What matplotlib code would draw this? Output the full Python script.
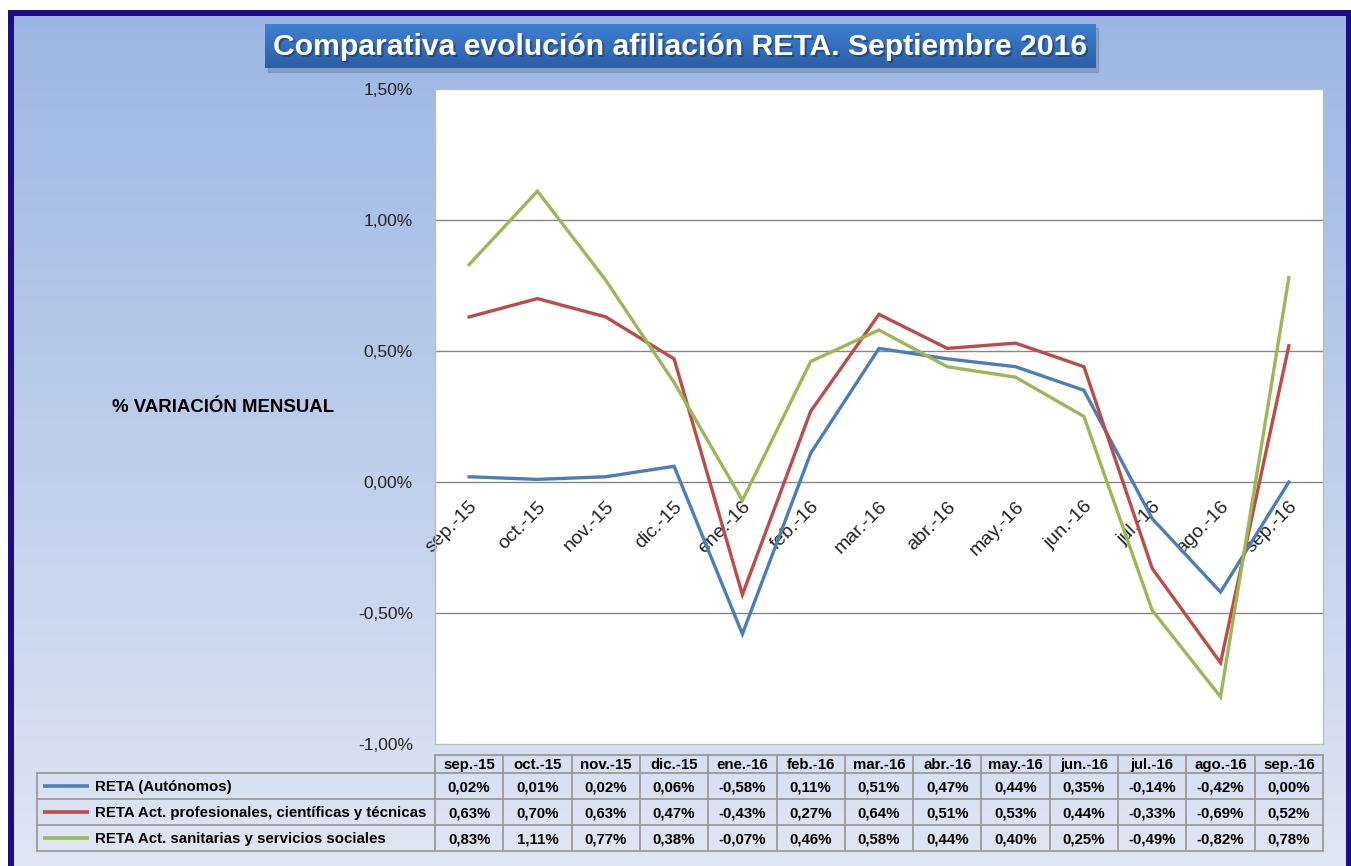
import numpy as np
import matplotlib
matplotlib.use("Agg")
import matplotlib.pyplot as plt
from matplotlib.patches import Rectangle

# ---------------- data ----------------
months = ["sep.-15", "oct.-15", "nov.-15", "dic.-15", "ene.-16", "feb.-16", "mar.-16",
          "abr.-16", "may.-16", "jun.-16", "jul.-16", "ago.-16", "sep.-16"]
series_names = ["RETA (Autónomos)",
                "RETA Act. profesionales, científicas y técnicas",
                "RETA Act. sanitarias y servicios sociales"]
reta_autonomos = [0.02, 0.01, 0.02, 0.06, -0.58, 0.11, 0.51, 0.47, 0.44, 0.35, -0.14, -0.42, 0.00]
reta_profesionales = [0.63, 0.70, 0.63, 0.47, -0.43, 0.27, 0.64, 0.51, 0.53, 0.44, -0.33, -0.69, 0.52]
reta_sanitarias = [0.83, 1.11, 0.77, 0.38, -0.07, 0.46, 0.58, 0.44, 0.40, 0.25, -0.49, -0.82, 0.78]
y_ticks = [-1.0, -0.5, 0.0, 0.5, 1.0, 1.5]
title = "Comparativa evolución afiliación RETA. Septiembre 2016"
ylabel = "% VARIACIÓN MENSUAL"

colors = ["#4a7ebb", "#be4b48", "#98b954"]
all_series = [reta_autonomos, reta_profesionales, reta_sanitarias]

W, H = 1351, 866
plt.rcParams['font.family'] = ['Liberation Sans', 'DejaVu Sans']

fig = plt.figure(figsize=(W / 100, H / 100), dpi=100)

def fx(x):
    return x / W

def fy(y):
    return 1 - y / H

# background gradient
bg = fig.add_axes([0, 0, 1, 1], zorder=0)
bg.set_axis_off()
top = np.array([0x9b, 0xb5, 0xe3]) / 255
bot = np.array([0xdf, 0xe6, 0xf3]) / 255
t = np.linspace(0, 1, 256)[:, None]
grad = top[None, :] * (1 - t) + bot[None, :] * t
bg.imshow(grad[:, None, :], aspect='auto', extent=[0, 1, 0, 1], origin='upper')
bg.set_xlim(0, 1)
bg.set_ylim(0, 1)
# white margin top/left
bg.add_patch(Rectangle((0, fy(10)), 1, 1 - fy(10), color='white', zorder=2))
bg.add_patch(Rectangle((0, 0), fx(8), 1, color='white', zorder=2))
# navy border
bg.add_patch(Rectangle((fx(10.5), fy(880)), fx(1349) - fx(10.5), fy(13) - fy(880),
                       fill=False, ec='#1e0a8a', lw=4.3, zorder=3))

# title box with gradient and shadow
tx0, ty0, tx1, ty1 = 265, 24, 1095, 68
bg.add_patch(Rectangle((fx(tx0 + 3), fy(ty1 + 4)), fx(tx1) - fx(tx0), fy(ty0) - fy(ty1),
                       color='#6d7fa3', alpha=0.45, zorder=3))
tax = fig.add_axes([fx(tx0), fy(ty1), fx(tx1) - fx(tx0), fy(ty0) - fy(ty1)], zorder=4)
tax.set_axis_off()
ttop = np.array([0x3e, 0x80, 0xd4]) / 255
tbot = np.array([0x2c, 0x5e, 0xa3]) / 255
tg = ttop[None, :] * (1 - t) + tbot[None, :] * t
tax.imshow(tg[:, None, :], aspect='auto', extent=[0, 1, 0, 1], origin='upper')
tax.set_xlim(0, 1)
tax.set_ylim(0, 1)
tax.text(0.5 + 0.002, 0.47 - 0.04, title, ha='center', va='center', fontsize=21.7,
         fontweight='bold', color='#1c3a66', alpha=0.6)
tax.text(0.5, 0.47, title, ha='center', va='center', fontsize=21.7,
         fontweight='bold', color='white')

# main plot
px0, py0, px1, py1 = 435, 89, 1323, 744
ax = fig.add_axes([fx(px0), fy(py1), fx(px1) - fx(px0), fy(py0) - fy(py1)], zorder=5)
ax.set_facecolor('white')
x = np.arange(len(months))
for s, c in zip(all_series, colors):
    ax.plot(x, s, color=c, lw=2.4, solid_joinstyle='miter', zorder=3)
ax.set_xlim(-0.5, len(months) - 0.5)
ax.set_ylim(-1.0, 1.5)
ax.set_yticks(y_ticks)
ax.set_yticklabels([f"{v:.2f}%".replace('.', ',') for v in y_ticks], fontsize=12.5, color='#222222')
ax.tick_params(axis='y', length=0, pad=16)
ax.set_xticks([])
for v in y_ticks[1:-1]:
    ax.axhline(v, color='#878787', lw=1.0, zorder=1)
for sp in ax.spines.values():
    sp.set_color('#bdbdbd')
    sp.set_linewidth(1.0)
for i, m in enumerate(months):
    ax.annotate(m, xy=(i, 0), xytext=(4, -16), textcoords='offset points',
                rotation=45, rotation_mode='anchor', ha='right', va='center',
                fontsize=14, color='#222222', zorder=2)

fig.text(fx(112), fy(407), ylabel, ha='left', va='center', fontsize=13.4,
         fontweight='bold', color='black')

# data table
col_w = (px1 - px0) / len(months)
r_head = (755, 773)
rows = [(773, 799), (799, 825), (825, 851)]
legend_x0 = 37
gc = '#9a9a9a'
glw = 1.3
tl = fig.add_axes([0, 0, 1, 1], zorder=6)
tl.set_axis_off()
tl.set_xlim(0, W)
tl.set_ylim(H, 0)
for k in range(len(months) + 1):
    xx = px0 + k * col_w
    tl.plot([xx, xx], [r_head[0], rows[-1][1]], color=gc, lw=glw)
tl.plot([px0, px1], [r_head[0], r_head[0]], color=gc, lw=glw)
tl.plot([legend_x0, legend_x0], [rows[0][0], rows[-1][1]], color=gc, lw=glw)
for (a, b) in rows:
    tl.plot([legend_x0, px1], [a, a], color=gc, lw=glw)
tl.plot([legend_x0, px1], [rows[-1][1], rows[-1][1]], color=gc, lw=glw)
for k, m in enumerate(months):
    tl.text(px0 + (k + 0.5) * col_w, (r_head[0] + r_head[1]) / 2 + 1, m, ha='center', va='center',
            fontsize=10.8, fontweight='bold', color='black')
for (a, b), name, s, c in zip(rows, series_names, all_series, colors):
    yc = (a + b) / 2 + 1
    tl.plot([43, 89], [yc - 1, yc - 1], color=c, lw=2.6, solid_capstyle='butt')
    tl.text(95, yc, name, ha='left', va='center', fontsize=10.8, fontweight='bold', color='black')
    for k, v in enumerate(s):
        tl.text(px0 + (k + 0.5) * col_w, yc, f"{v:.2f}%".replace('.', ','), ha='center', va='center',
                fontsize=10.8, fontweight='bold', color='black')

fig.savefig("out.png", dpi=100)
